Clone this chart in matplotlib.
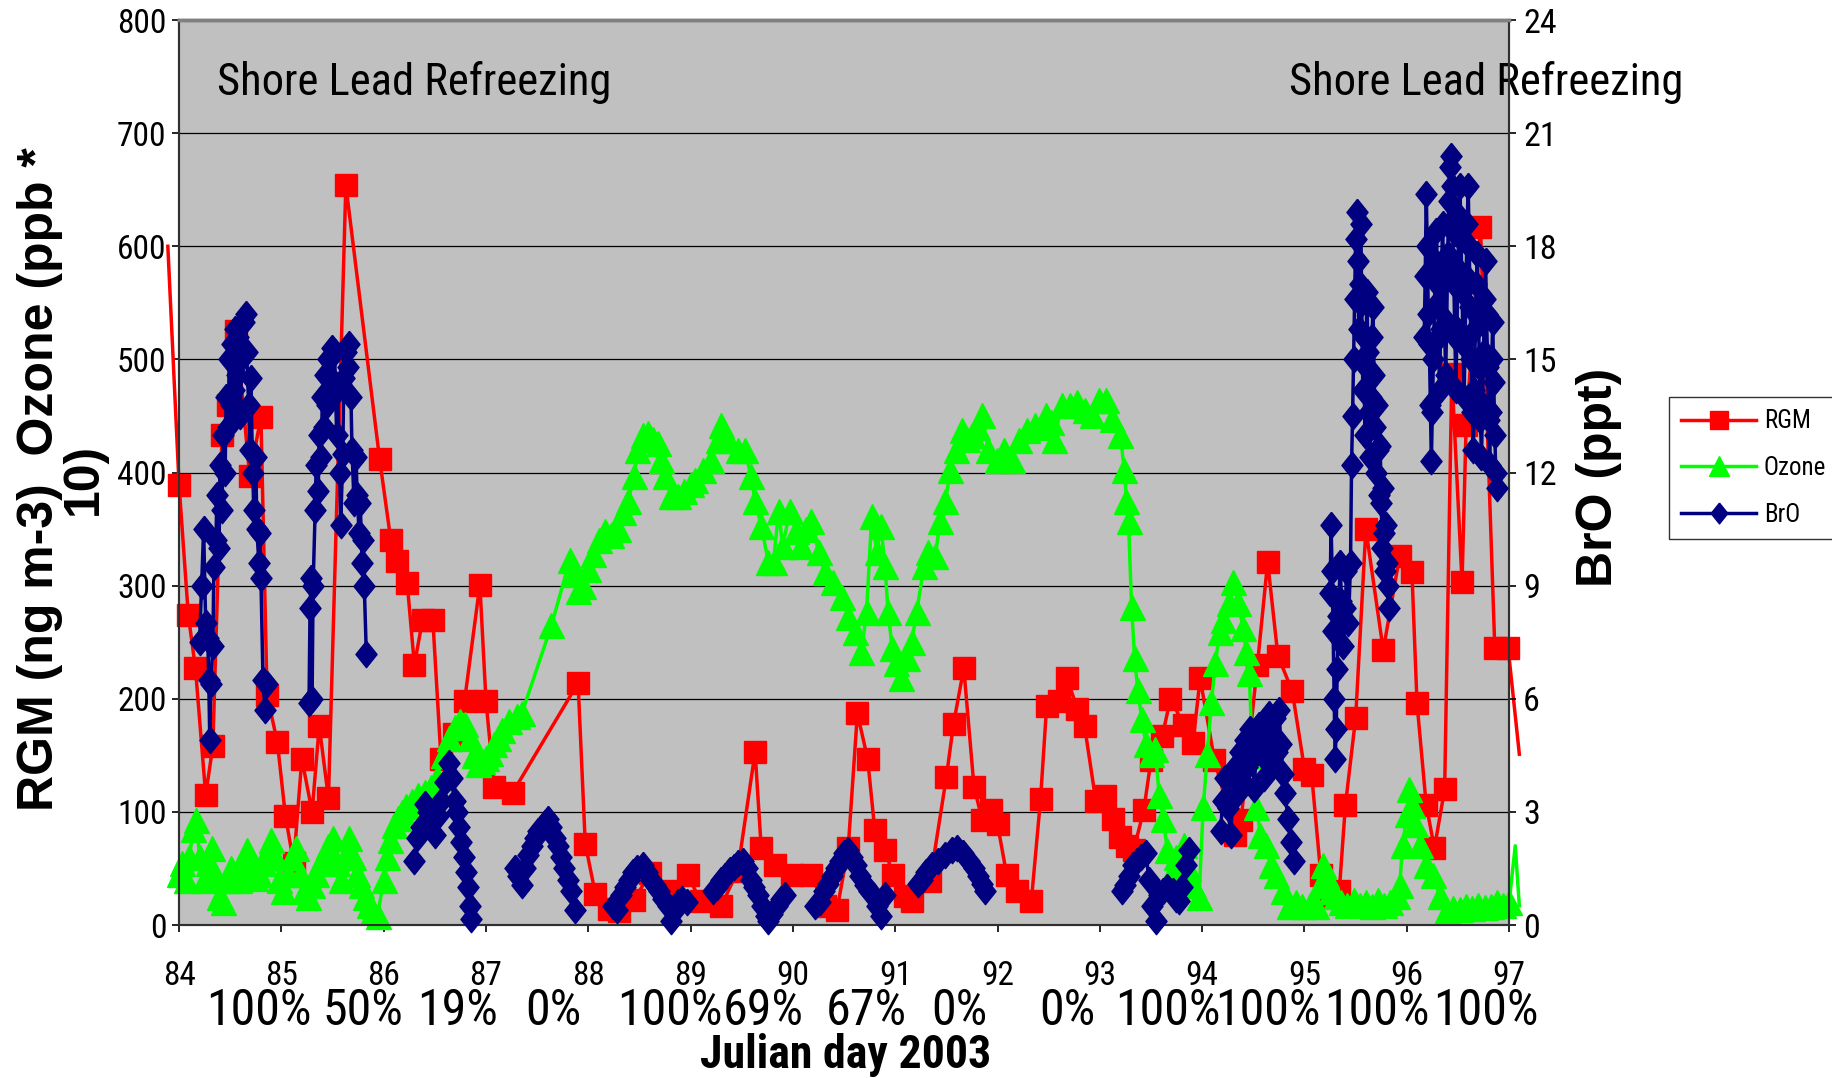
import numpy as np
import matplotlib
matplotlib.use("Agg")
import matplotlib.pyplot as plt
from matplotlib.lines import Line2D
from matplotlib.transforms import blended_transform_factory

nan = np.nan

# ---------------- data ----------------
# Reactive gaseous mercury (ng m-3), left axis
rgm_day = [83.89, 84.00, 84.09, 84.16, 84.26, 84.33, 84.42, 84.48, 84.56, 84.69,
           84.80, 84.86, 84.96, 85.04, 85.12, 85.20, 85.30, 85.37, 85.46, 85.63,
           85.96, 86.07, 86.13, 86.23, 86.30, 86.38, 86.48, 86.56, 86.69, 86.79,
           86.94, 87.00, 87.08, 87.26, 87.90, 87.97, 88.07, 88.20, 88.30, 88.45,
           88.60, 88.79, 88.97, 89.10, 89.30, 89.46, 89.63, 89.69, 89.82, 89.99,
           90.18, 90.31, 90.43, 90.54, 90.63, 90.73, 90.80, 90.90, 90.98, 91.10,
           91.16, 91.34, 91.50, 91.57, 91.67, 91.77, 91.85, 91.94, 92.00, 92.09,
           92.19, 92.33, 92.42, 92.48, 92.60, 92.68, 92.78, 92.85, 92.96, 93.05,
           93.13, 93.20, 93.27, 93.33, 93.43, 93.50, 93.61, 93.69, 93.82, 93.91,
           93.98, 94.12, 94.32, 94.38, 94.54, 94.64, 94.74, 94.88, 95.00, 95.07,
           95.16, 95.25, 95.34, 95.40, 95.50, 95.60, 95.77, 95.93, 96.05, 96.10,
           96.19, 96.27, 96.37, 96.44, 96.54, 96.58, 96.72, 96.86, 96.99, 97.10]
rgm_val = [600, 389, 274, 227, 115, 158, 433, 460, 525, 397,
           449, 203, 162, 96, 55, 147, 100, 176, 112, 654,
           412, 340, 322, 302, 230, 270, 270, 147, 169, 198,
           301, 198, 122, 117, 214, 72, 27, 14, 12, 22,
           46, 30, 44, 21, 17, 48, 153, 68, 53, 44,
           44, 17, 13, 68, 187, 147, 84, 66, 44, 26,
           21, 39, 131, 178, 227, 122, 93, 102, 89, 44,
           30, 21, 111, 194, 198, 218, 191, 176, 110, 114,
           94, 78, 70, 66, 102, 146, 167, 200, 177, 161,
           218, 146, 80, 93, 230, 321, 238, 207, 138, 133,
           44, 26, 30, 106, 183, 350, 243, 326, 312, 196,
           106, 68, 120, 487, 303, 442, 617, 245, 245, 151]

# Ozone (ppb * 10), left axis
ozone_day = [84.00, 84.03, 84.07, 84.10, 84.14, 84.17, 84.20, 84.24, 84.28, 84.32,
             84.35, 84.39, 84.43, 84.47, 84.51, 84.55, 84.59, 84.63, 84.66, 84.70,
             84.74, 84.78, 84.82, 84.86, 84.90, 84.94, 84.98, 85.02, 85.06, 85.10,
             85.14, 85.18, 85.22, 85.26, 85.30, 85.34, 85.38, 85.42, 85.46, 85.50,
             85.54, 85.58, 85.62, 85.66, 85.70, 85.74, 85.78, 85.82, 85.86, 85.90,
             85.94, 86.00, 86.03, 86.06, 86.10, 86.14, 86.18, 86.22, 86.28, 86.34,
             86.40, 86.46, 86.52, 86.58, 86.64, 86.70, 86.75, 86.79, 86.84, 86.88,
             86.92, 86.96, 87.00, 87.04, 87.08, 87.12, 87.16, 87.22, 87.30, 87.35,
             87.64, 87.82, 87.86, 87.90, 87.95, 88.00, 88.05, 88.10, 88.16, 88.22,
             88.29, 88.34, 88.39, 88.45, 88.48, 88.53, 88.58, 88.63, 88.68, 88.71,
             88.75, 88.81, 88.88, 88.94, 89.00, 89.04, 89.12, 89.20, 89.27, 89.30,
             89.37, 89.46, 89.53, 89.59, 89.63, 89.69, 89.76, 89.81, 89.86, 89.90,
             89.97, 90.03, 90.08, 90.13, 90.18, 90.25, 90.31, 90.39, 90.48, 90.54,
             90.61, 90.67, 90.72, 90.77, 90.82, 90.86, 90.90, 90.93, 90.97, 91.01,
             91.06, 91.11, 91.16, 91.21, 91.28, 91.32, 91.39, 91.44, 91.49, 91.54,
             91.59, 91.65, 91.70, 91.75, 91.80, 91.85, 91.91, 91.99, 92.06, 92.14,
             92.21, 92.29, 92.37, 92.42, 92.47, 92.52, 92.55, 92.63, 92.71, 92.78,
             92.85, 92.92, 92.99, 93.06, 93.12, 93.20, 93.24, 93.26, 93.28, 93.31,
             93.34, 93.37, 93.41, 93.45, 93.50, 93.54, 93.58, 93.62, 93.66, 93.70,
             93.74, 93.78, 93.82, 93.86, 93.91, 93.97, 94.01, 94.05, 94.09, 94.13,
             94.17, 94.20, 94.26, 94.30, 94.35, 94.40, 94.43, 94.46, 94.49, 94.53,
             94.57, 94.62, 94.67, 94.72, 94.79, 94.85, 94.92, 94.98, 95.05, 95.11,
             95.15, 95.18, 95.21, 95.26, 95.31, 95.36, 95.42, 95.48, 95.54, 95.60,
             95.66, 95.72, 95.78, 95.84, 95.90, 95.93, 95.96, 96.00, 96.02, 96.05,
             96.08, 96.13, 96.19, 96.26, 96.32, 96.39, 96.45, 96.52, 96.58, 96.64,
             96.70, 96.76, 96.82, 96.88, 96.94, 97.00, 97.06, 97.10]
ozone_val = [45, 55, 40, 60, 85, 93, 60, 40, 55, 68,
             45, 25, 20, 40, 50, 45, 40, 55, 66, 50,
             42, 45, 55, 65, 75, 60, 40, 30, 45, 60,
             68, 45, 30, 25, 35, 45, 55, 60, 70, 77,
             55, 40, 60, 77, 60, 45, 35, 25, 18, 12,
             8, 40, 60, 75, 88, 95, 100, 105, 110, 115,
             118, 122, 130, 150, 165, 175, 180, 178, 165, 150,
             142, 145, 148, 152, 160, 165, 172, 180, 185, 187,
             265, 323, 310, 295, 300, 315, 328, 340, 348, 345,
             350, 365, 375, 397, 420, 433, 435, 430, 426, 411,
             397, 379, 379, 384, 390, 393, 402, 411, 429, 442,
             429, 420, 420, 397, 375, 353, 321, 321, 366, 335,
             366, 348, 335, 350, 357, 330, 312, 303, 290, 272,
             259, 241, 277, 362, 330, 353, 317, 277, 245, 232,
             218, 236, 250, 277, 317, 330, 326, 357, 375, 402,
             420, 438, 430, 433, 440, 451, 420, 411, 420, 411,
             429, 438, 442, 440, 451, 445, 429, 460, 460, 462,
             455, 451, 464, 464, 447, 433, 402, 375, 357, 281,
             236, 208, 182, 160, 151, 156, 115, 94, 66, 44,
             60, 50, 71, 50, 35, 25, 104, 151, 197, 232,
             259, 270, 285, 303, 285, 263, 241, 223, 150, 104,
             80, 71, 53, 44, 30, 17, 20, 17, 18, 17,
             35, 53, 44, 30, 26, 20, 18, 22, 18, 20,
             17, 22, 18, 20, 26, 35, 71, 98, 120, 106,
             89, 71, 53, 44, 26, 13, 15, 14, 17, 15,
             18, 16, 17, 20, 18, 20, 70, 17]

# BrO (ppt), right axis; nan separates measurement periods
bro_day = [84.20, 84.22, 84.24, 84.26, 84.28, 84.29, 84.30, 84.31, 84.33, 84.34,
           84.36, 84.37, 84.39, 84.40, 84.42, 84.43, 84.45, 84.46, 84.48, 84.49,
           84.51, 84.52, 84.54, 84.55, 84.57, 84.58, 84.60, 84.61, 84.63, 84.65,
           84.66, 84.68, 84.69, 84.70, 84.72, 84.73, 84.75, 84.76, 84.78, 84.79,
           84.80, 84.82, 84.84, 84.86, nan,
           85.27, 85.28, 85.29, 85.30, 85.31, 85.33, 85.34, 85.36, 85.37, 85.39,
           85.40, 85.42, 85.43, 85.45, 85.46, 85.48, 85.49, 85.51, 85.52, 85.54,
           85.55, 85.57, 85.58, 85.60, 85.61, 85.63, 85.65, 85.66, 85.68, 85.69,
           85.71, 85.73, 85.74, 85.76, 85.77, 85.79, 85.80, 85.81, 85.83, nan,
           86.30, 86.33, 86.36, 86.40, 86.43, 86.46, 86.50, 86.53, 86.56, 86.60,
           86.64, 86.67, 86.70, 86.72, 86.74, 86.76, 86.78, 86.80, 86.82, 86.84,
           86.85, nan,
           87.28, 87.31, 87.35, 87.38, 87.41, 87.45, 87.48, 87.51, 87.55, 87.58,
           87.61, 87.64, 87.67, 87.70, 87.73, 87.76, 87.80, 87.83, 87.87, nan,
           88.24, 88.28, 88.32, 88.36, 88.40, 88.44, 88.48, 88.53, 88.57, 88.61,
           88.65, 88.69, 88.73, 88.78, 88.81, 88.85, 88.88, 88.92, 88.96, nan,
           89.22, 89.26, 89.30, 89.34, 89.38, 89.42, 89.46, 89.51, 89.55, 89.59,
           89.62, 89.66, 89.70, 89.74, 89.76, 89.80, 89.84, 89.88, 89.92, nan,
           90.22, 90.26, 90.30, 90.34, 90.38, 90.42, 90.46, 90.50, 90.54, 90.58,
           90.62, 90.66, 90.70, 90.74, 90.78, 90.82, 90.86, 90.90, nan,
           91.22, 91.26, 91.30, 91.36, 91.42, 91.49, 91.55, 91.60, 91.66, 91.72,
           91.77, 91.81, 91.85, 91.88, nan,
           93.22, 93.25, 93.28, 93.32, 93.36, 93.40, 93.45, 93.48, 93.51, 93.55,
           93.58, 93.62, 93.66, 93.71, 93.74, 93.77, 93.80, 93.84, 93.87, nan,
           94.18, 94.20, 94.22, 94.25, 94.28, 94.30, 94.32, 94.35, 94.37, 94.40,
           94.42, 94.44, 94.47, 94.49, 94.51, 94.53, 94.56, 94.58, 94.60, 94.62,
           94.65, 94.67, 94.69, 94.71, 94.73, 94.75, 94.77, 94.79, 94.81, 94.84,
           94.87, 94.90, nan,
           95.25, 95.26, 95.27, 95.28, 95.29, 95.30, 95.31, 95.32, 95.33, 95.35,
           95.36, 95.38, 95.40, 95.41, 95.43, 95.45, 95.46, 95.47, 95.48, 95.49,
           95.50, 95.51, 95.52, 95.53, 95.54, 95.55, 95.56, 95.57, 95.58, 95.59,
           95.60, 95.61, 95.62, 95.63, 95.64, 95.65, 95.66, 95.67, 95.68, 95.69,
           95.70, 95.71, 95.72, 95.73, 95.74, 95.75, 95.76, 95.77, 95.78, 95.79,
           95.80, 95.81, 95.82, 95.83, nan,
           96.17, 96.18, 96.19, 96.20, 96.21, 96.22, 96.23, 96.24, 96.25, 96.26,
           96.27, 96.28, 96.29, 96.30, 96.31, 96.32, 96.33, 96.34, 96.35, 96.36,
           96.37, 96.38, 96.39, 96.40, 96.41, 96.42, 96.43, 96.44, 96.45, 96.46,
           96.47, 96.48, 96.49, 96.50, 96.51, 96.52, 96.53, 96.54, 96.55, 96.56,
           96.57, 96.58, 96.59, 96.60, 96.61, 96.62, 96.63, 96.64, 96.65, 96.66,
           96.67, 96.68, 96.69, 96.70, 96.71, 96.72, 96.73, 96.74, 96.75, 96.76,
           96.77, 96.78, 96.79, 96.80, 96.81, 96.82, 96.83, 96.84, 96.85, 96.86,
           96.87, 96.88]
bro_val = [7.5, 9.0, 10.5, 8.0, 7.6, 6.5, 4.9, 6.4, 7.4, 9.5,
           10.2, 11.4, 10.0, 12.2, 11.0, 13.0, 12.0, 14.0, 13.2, 15.0,
           13.8, 15.4, 14.2, 15.8, 14.6, 15.6, 13.5, 15.0, 16.0, 16.2,
           15.2, 13.8, 12.6, 14.5, 12.0, 11.0, 12.4, 10.5, 9.6, 10.4,
           9.2, 6.5, 5.7, 6.4, nan,
           5.9, 8.4, 9.2, 6.0, 9.0, 11.0, 12.2, 11.5, 13.0, 12.4,
           14.0, 13.2, 14.6, 13.8, 15.0, 14.0, 15.3, 14.4, 15.2, 13.0,
           14.2, 12.0, 10.6, 12.5, 14.5, 15.2, 14.8, 15.4, 14.0, 12.6,
           11.2, 12.4, 11.4, 10.4, 11.2, 9.6, 10.2, 9.0, 7.2, nan,
           1.7, 2.3, 2.6, 3.2, 3.0, 2.7, 2.4, 2.9, 3.3, 3.8,
           4.3, 3.9, 3.3, 3.0, 2.6, 2.2, 1.8, 1.4, 1.0, 0.5,
           0.15, nan,
           1.5, 1.3, 1.05, 1.5, 1.85, 2.1, 2.3, 2.5, 2.6, 2.7,
           2.8, 2.6, 2.3, 2.1, 1.8, 1.5, 1.2, 0.9, 0.4, nan,
           0.5, 0.4, 0.8, 1.0, 1.2, 1.4, 1.5, 1.6, 1.4, 1.2,
           1.05, 0.9, 0.7, 0.5, 0.1, 0.4, 0.6, 0.7, 0.6, nan,
           0.9, 1.0, 1.2, 1.3, 1.45, 1.55, 1.65, 1.7, 1.5, 1.2,
           1.0, 0.8, 0.5, 0.25, 0.1, 0.3, 0.5, 0.7, 0.8, nan,
           0.5, 0.6, 0.9, 1.1, 1.3, 1.5, 1.7, 1.9, 2.0, 1.8,
           1.6, 1.3, 1.05, 0.9, 0.8, 0.5, 0.25, 0.8, nan,
           1.1, 1.2, 1.4, 1.6, 1.7, 1.85, 2.0, 2.05, 1.9, 1.7,
           1.5, 1.3, 1.1, 0.9, nan,
           0.9, 1.05, 1.3, 1.6, 1.7, 1.8, 1.9, 1.2, 0.5, 0.1,
           0.8, 0.9, 1.0, 0.9, 0.7, 0.65, 1.0, 1.6, 2.0, nan,
           2.5, 3.3, 3.9, 3.1, 2.4, 3.6, 4.2, 3.5, 4.6, 3.8,
           4.9, 4.2, 5.2, 4.4, 3.6, 4.8, 5.3, 4.5, 3.9, 4.7,
           5.6, 5.0, 4.3, 5.5, 4.6, 5.7, 4.8, 4.0, 3.5, 2.8,
           2.2, 1.7, nan,
           8.8, 10.6, 9.4, 7.8, 6.0, 4.4, 5.2, 6.8, 8.2, 9.6,
           8.6, 7.4, 8.4, 9.4, 8.0, 9.6, 12.2, 13.5, 15.0, 16.6,
           18.2, 18.9, 17.6, 15.8, 17.0, 18.6, 16.5, 14.2, 15.6, 13.0,
           14.8, 16.8, 15.2, 13.6, 12.4, 14.0, 15.6, 16.4, 14.6, 13.2,
           12.0, 13.8, 12.6, 11.4, 12.7, 11.2, 10.0, 11.6, 10.4, 9.4,
           10.6, 9.6, 9.0, 8.4, nan,
           15.6, 17.2, 19.4, 18.0, 16.2, 15.4, 13.8, 12.3, 13.6, 15.0,
           16.4, 17.6, 18.4, 17.0, 15.6, 14.2, 15.8, 17.4, 18.6, 17.2,
           15.8, 14.6, 16.0, 17.8, 19.2, 20.1, 20.4, 19.6, 18.4, 17.0,
           15.6, 14.2, 15.8, 17.4, 18.8, 19.6, 18.2, 16.8, 15.4, 14.0,
           15.6, 17.2, 18.6, 19.6, 18.0, 16.4, 15.0, 13.6, 12.6, 14.2,
           15.8, 17.0, 17.8, 16.2, 14.8, 13.4, 12.4, 13.8, 15.2, 16.6,
           17.6, 16.2, 14.8, 13.4, 12.2, 13.6, 15.0, 16.0, 14.4, 13.0,
           12.0, 11.6]

# Share of each day with the shore lead refreezing
pct_labels = ["100%", "50%", "19%", "0%", "100%", "69%", "67%", "0%", "0%",
              "100%", "100%", "100%", "100%"]
pct_day = [84.78, 85.80, 86.72, 87.66, 88.80, 89.71, 90.72, 91.63, 92.68,
           93.66, 94.64, 95.71, 96.77]

day_ticks = list(range(84, 98))
left_ticks = list(range(0, 801, 100))
right_ticks = list(range(0, 25, 3))

# ---------------- style ----------------
RED, GREEN, NAVY = "#FF0000", "#00FF00", "#000080"
NARROW = ["Roboto Condensed", "DejaVu Sans"]
WIDE = ["Liberation Sans", "DejaVu Sans"]
plt.rcParams["font.family"] = NARROW

fig = plt.figure(figsize=(18.33, 10.78), dpi=100)
ax = fig.add_axes([0.0977, 0.1419, 0.7256, 0.8395])
ax.set_facecolor("#C0C0C0")
ax.set_xlim(84, 97)
ax.set_ylim(0, 800)
ax.set_xticks(day_ticks)
ax.set_yticks(left_ticks)
ax.yaxis.grid(True, color="black", lw=0.9)
ax.set_axisbelow(True)
ax.tick_params(axis="y", direction="out", length=5, width=1.2, pad=4,
               labelsize=24, colors="black")
ax.tick_params(axis="x", direction="out", length=5, width=1.2, pad=20,
               labelsize=24)

ax2 = ax.twinx()
ax2.set_ylim(0, 24)
ax2.set_yticks(right_ticks)
ax2.tick_params(axis="y", direction="out", length=5, width=1.2, pad=5,
                labelsize=24.5)

for a in (ax, ax2):
    for side, sp in a.spines.items():
        sp.set_color("#808080" if side == "top" else "#303030")
        sp.set_linewidth(2.5 if side == "top" else 1.5)

diamond = [(0, 1), (0.8, 0), (0, -1), (-0.8, 0), (0, 1)]


def in_range(days):
    return [i for i, d in enumerate(days) if 84 <= d <= 97]


ax.plot(rgm_day, rgm_val, color=RED, lw=2.5, marker="s", ms=16,
        mec=RED, mfc=RED, markevery=in_range(rgm_day), clip_on=False,
        zorder=3)
ax.plot(ozone_day, ozone_val, color=GREEN, lw=2.5, marker="^", ms=18,
        mec=GREEN, mfc=GREEN, markevery=in_range(ozone_day), clip_on=False,
        zorder=4)
ax2.plot(bro_day, bro_val, color=NAVY, lw=2.5, marker=diamond, ms=19,
         mec=NAVY, mfc=NAVY, clip_on=False, zorder=5)

# annotations
ax.text(0.0286, 0.9315, "Shore Lead Refreezing", transform=ax.transAxes,
        fontsize=32, ha="left", va="center")
ax.text(0.8346, 0.9315, "Shore Lead Refreezing", transform=ax.transAxes,
        fontsize=32, ha="left", va="center", clip_on=False)

trans = blended_transform_factory(ax.transData, fig.transFigure)
for lab, d in zip(pct_labels, pct_day):
    fig.text(d, 1 - 1011 / 1078, lab, transform=trans, fontsize=36,
             ha="center", va="center")

fig.text(846 / 1833, 1 - 1055 / 1078, "Julian day 2003", fontsize=33,
         fontweight="bold", ha="center", va="center")
fig.text(62 / 1833, 1 - 479 / 1078, "RGM (ng m-3)  Ozone (ppb *\n10)",
         rotation=90, ha="center", va="center", fontsize=36,
         fontweight="bold", family=WIDE, multialignment="center",
         linespacing=0.95)
fig.text(1599 / 1833, 1 - 477 / 1078, "BrO (ppt)", rotation=90, ha="center",
         va="center", fontsize=36, fontweight="bold", family=WIDE)

handles = [
    Line2D([], [], color=RED, lw=2.5, marker="s", ms=13, mec=RED),
    Line2D([], [], color=GREEN, lw=2.5, marker="^", ms=14, mec=GREEN),
    Line2D([], [], color=NAVY, lw=2.5, marker=diamond, ms=15, mec=NAVY),
]
leg = fig.legend(handles, ["RGM", "Ozone", "BrO"], loc="upper left",
                 bbox_to_anchor=(1669 / 1833, 1 - 397 / 1078),
                 fontsize=18, frameon=True, fancybox=False, shadow=False,
                 borderaxespad=0, borderpad=0.5, handlelength=3.0,
                 handletextpad=0.3, labelspacing=0.9, numpoints=1)
leg.get_frame().set_edgecolor("black")
leg.get_frame().set_linewidth(1.0)

fig.savefig("out.png", dpi=100, facecolor="white")
